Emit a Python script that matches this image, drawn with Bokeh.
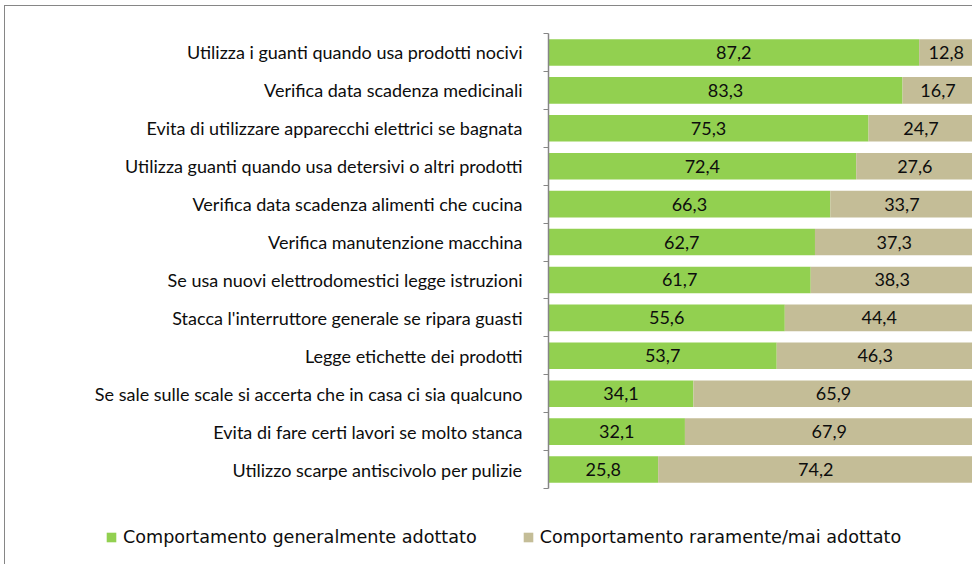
from bokeh.plotting import figure
from bokeh.models import ColumnDataSource, Range1d, FixedTicker
from bokeh.core.properties import value
from bokeh.embed import file_html
from bokeh.resources import INLINE

categories = [
    "Utilizza i guanti quando usa prodotti nocivi",
    "Verifica data scadenza medicinali",
    "Evita di utilizzare apparecchi elettrici se bagnata",
    "Utilizza guanti quando usa detersivi o altri prodotti",
    "Verifica data scadenza alimenti che cucina",
    "Verifica manutenzione macchina",
    "Se usa nuovi elettrodomestici legge istruzioni",
    "Stacca l'interruttore generale se ripara guasti",
    "Legge etichette dei prodotti",
    "Se sale sulle scale si accerta che in casa ci sia qualcuno",
    "Evita di fare certi lavori se molto stanca",
    "Utilizzo scarpe antiscivolo per pulizie",
]
adottato = [87.2, 83.3, 75.3, 72.4, 66.3, 62.7, 61.7, 55.6, 53.7, 34.1, 32.1, 25.8]
raramente = [12.8, 16.7, 24.7, 27.6, 33.7, 37.3, 38.3, 44.4, 46.3, 65.9, 67.9, 74.2]
series_names = ["Comportamento generalmente adottato", "Comportamento raramente/mai adottato"]
colors = ["#92D050", "#C4BD97"]

FONT = "Lato"
n = len(categories)
ypos = [i + 0.5 for i in range(n)]

# layout (pixels)
W, H = 968, 559          # figure size (placed at x=5, y=6 on the page)
AXIS_X = 543             # axis line position inside figure
PLOT_TOP, PLOT_BOTTOM = 27, 482   # category band extent inside figure
px_per_unit = (W - AXIS_X) / 100.0
row_px = (PLOT_BOTTOM - PLOT_TOP) / n

source = ColumnDataSource(dict(y=ypos, adottato=adottato, raramente=raramente))

p = figure(width=W, height=H, output_backend="svg", toolbar_location=None,
           x_range=Range1d(-AXIS_X / px_per_unit, 100),
           y_range=Range1d(n + (H - PLOT_BOTTOM) / row_px, -PLOT_TOP / row_px),
           min_border_left=0, min_border_right=0, min_border_top=0, min_border_bottom=0)
p.styles = {"border-left": "1px solid #868686", "border-top": "1px solid #868686",
            "margin-left": "4px", "margin-top": "5px"}

p.hbar_stack(["adottato", "raramente"], y="y", height=0.7, color=colors, source=source,
             line_color=None, legend_label=series_names)

# data labels
lab_x, lab_y, lab_t = [], [], []
for i in range(n):
    a, r = adottato[i], raramente[i]
    lab_x += [a / 2, a + r / 2]
    lab_y += [ypos[i], ypos[i]]
    lab_t += [f"{a:.1f}".replace(".", ","), f"{r:.1f}".replace(".", ",")]
p.text(x=lab_x, y=lab_y, text=lab_t, text_align="center", text_baseline="middle",
       text_font=value(FONT), text_font_size="18px", text_color="#0d0d0d")

p.xaxis.visible = False
p.xgrid.visible = False
p.ygrid.visible = False
p.outline_line_color = None

ax = p.yaxis[0]
ax.fixed_location = 0
ax.bounds = (0, n)
ax.ticker = FixedTicker(ticks=ypos, minor_ticks=list(range(n + 1)))
ax.major_label_overrides = {y: c for y, c in zip(ypos, categories)}
ax.major_tick_line_color = None
ax.major_tick_out = 0
ax.major_tick_in = 0
ax.minor_tick_line_color = "#868686"
ax.minor_tick_out = 5
ax.minor_tick_in = 0
ax.axis_line_color = "#868686"
ax.axis_line_width = 1.5
ax.major_label_standoff = 21
ax.major_label_text_font = FONT
ax.major_label_text_font_size = "18px"
ax.major_label_text_color = "#0d0d0d"

lg = p.legend[0]
lg.orientation = "horizontal"
lg.location = (100, 18)
lg.border_line_color = None
lg.background_fill_alpha = 0
lg.label_text_font = "DejaVu Sans"
lg.label_text_font_size = "17.6px"
lg.label_text_color = "#0d0d0d"
lg.glyph_width = 12
lg.glyph_height = 12
lg.label_standoff = 6
lg.spacing = 45
lg.padding = 0
lg.margin = 0

open("out.html", "w").write(file_html(p, INLINE))
